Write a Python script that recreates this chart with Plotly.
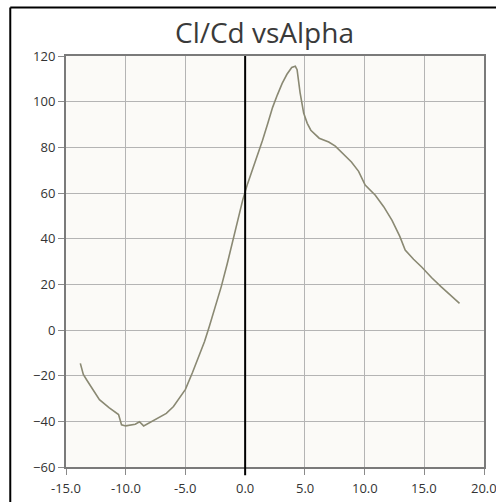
import plotly.graph_objects as go

alpha = [-13.8, -13.55, -13.25, -12.75, -12.2, -11.4, -10.6, -10.35, -10.0, -9.2, -8.85, -8.5,
         -7.9, -7.3, -6.9, -6.6, -6.0, -5.5, -5.0, -4.4, -3.9, -3.4, -3.0, -2.5, -2.0, -1.5,
         -1.0, -0.5, -0.2, 0.2, 0.6, 1.0, 1.45, 1.9, 2.3, 2.7, 3.1, 3.5, 3.9, 4.2, 4.35, 4.6,
         4.9, 5.2, 5.5, 6.2, 7.0, 7.55, 8.1, 8.9, 9.5, 10.05, 10.9, 11.6, 12.3, 12.95, 13.4,
         14.1, 14.8, 15.6, 16.4, 17.2, 17.95]
cl_cd = [-14.6, -19.5, -22, -26, -30.5, -34, -37, -41.5, -42, -41.3, -40.2, -42,
         -40.2, -38.5, -37.5, -36.5, -33.5, -30, -26, -18.5, -12, -5, 1.5, 10, 19, 29,
         39.5, 50, 57, 64, 70, 76.5, 83, 90.5, 97.5, 103, 108, 112, 115, 115.5, 114, 104,
         95, 90.5, 87.5, 84, 82.3, 80.5, 77.5, 73.6, 69.5, 63.5, 59, 54, 48, 41, 35,
         31, 27.5, 23, 19, 15, 11.7]

x_ticks = [-15, -10, -5, 0, 5, 10, 15, 20]
x_tick_labels = ["-15.0", "-10.0", "-5.0", "0.0", "5.0", "10.0", "15.0", "20.0"]
y_ticks = [-60, -40, -20, 0, 20, 40, 60, 80, 100, 120]
title_text = "Cl/Cd vsAlpha"

fig = go.Figure()
fig.add_trace(go.Scatter(x=alpha, y=cl_cd, mode="lines",
                         line=dict(color="#8a8973", width=1.6), showlegend=False))

W, H = 496, 502
L, R, T, B = 66, 10, 56, 35
pw, ph = W - L - R, H - T - B

def px(x):
    return (x - L) / pw

def py(y):
    return (H - B - y) / ph

tick_font = dict(family="Open Sans, DejaVu Sans", size=13, color="#333333")

axis_common = dict(showgrid=True, gridcolor="#b4b4b4", gridwidth=1,
                   showline=True, linecolor="#7a7a7a", linewidth=2, mirror=True,
                   ticks="outside", ticklen=6, tickcolor="#8a8a8a", tickwidth=1,
                   zeroline=False, tickfont=tick_font)

# the last x label overflows the figure edge; draw it as an annotation so it is clipped, not dropped
annotations = [
    dict(text=title_text, xref="paper", yref="paper", x=px(265), y=py(32),
         xanchor="center", yanchor="middle", showarrow=False,
         font=dict(family="Open Sans, DejaVu Sans", size=28, color="#3a3a3a")),
]
for v, t in zip(x_ticks, x_tick_labels):
    annotations.append(dict(text=t, xref="x", yref="paper", x=v, y=0, yanchor="top",
                            xanchor="center", yshift=-10, showarrow=False, font=tick_font))

fig.update_layout(
    width=W, height=H,
    margin=dict(l=L, r=R, t=T, b=B),
    paper_bgcolor="white", plot_bgcolor="#fbfaf7",
    xaxis=dict(range=[-15, 20], tickvals=x_ticks, showticklabels=False, **axis_common),
    yaxis=dict(range=[-60, 120], tickvals=y_ticks, **axis_common),
    shapes=[
        dict(type="line", xref="x", yref="paper", x0=0, x1=0, y0=-0.02, y1=1,
             line=dict(color="black", width=2)),
        dict(type="line", xref="paper", yref="paper", x0=px(10), x1=px(10), y0=py(7.5), y1=py(510),
             line=dict(color="black", width=2)),
        dict(type="line", xref="paper", yref="paper", x0=px(10), x1=px(505), y0=py(7.5), y1=py(7.5),
             line=dict(color="black", width=2)),
    ],
    annotations=annotations,
)

fig.write_html("out.html", config={"displayModeBar": False},
               post_script="document.body.style.margin='0';document.body.style.overflow='hidden';")
